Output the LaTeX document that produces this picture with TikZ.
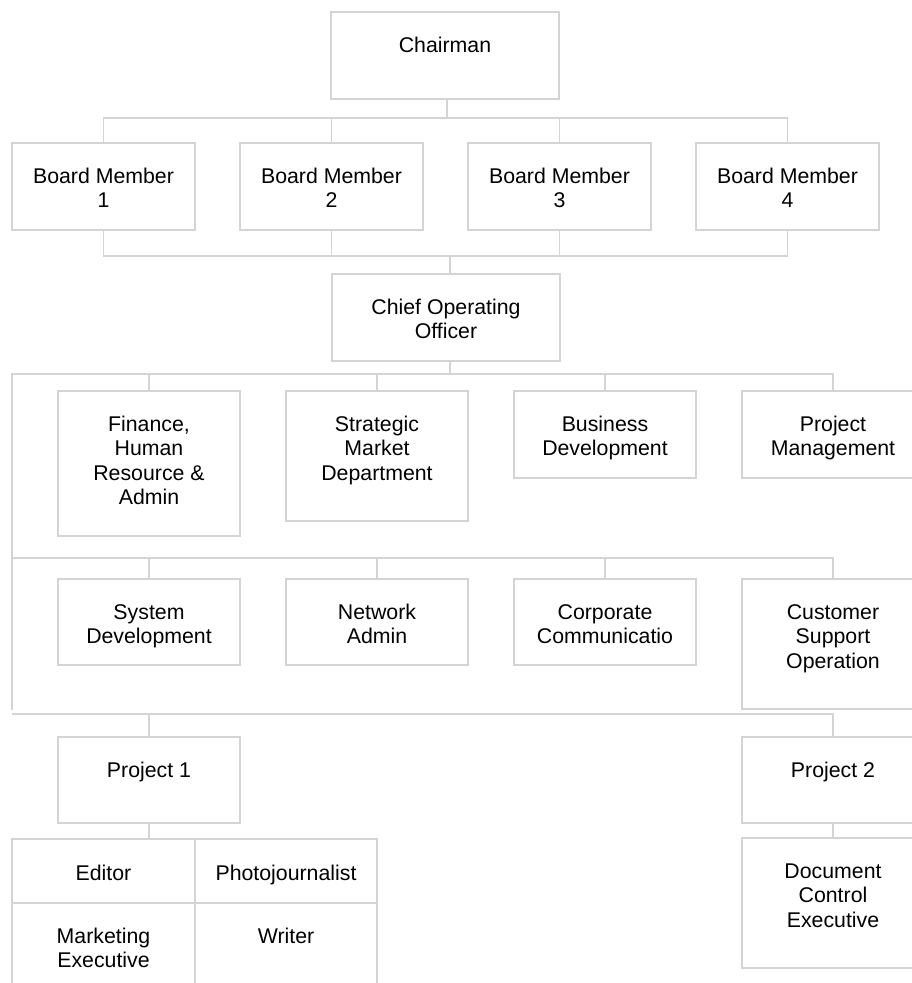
\documentclass[tikz,border=0pt]{standalone}
\usepackage{fontspec}
\setmainfont{Liberation Sans}
\definecolor{linegray}{RGB}{212,212,212}
\newcommand\chartfont{\fontsize{21.3}{24.3}\selectfont}
\tikzset{
  box/.style={draw=linegray, line width=1.2pt, rectangle, inner sep=0pt, outer sep=0pt},
  lbl/.style={font=\chartfont, align=center, anchor=base, inner sep=0pt, text=black},
  wire/.style={draw=linegray, line width=1.2pt},
}
\begin{document}
\begin{tikzpicture}[x=1pt, y=-1pt]
\useasboundingbox (0,0) rectangle (912,983);

% bus levels
\coordinate (busA) at (0,118);
\coordinate (busB) at (0,256);
\coordinate (busC) at (0,374);
\coordinate (busD) at (0,558);
\coordinate (busE) at (0,714);
\coordinate (leftC) at (12,374);
\coordinate (leftEnd) at (12,710);
\coordinate (leftD) at (12,558);
\coordinate (leftE) at (12,714);

% boxes
\node[box, minimum width=228, minimum height=87] (chair) at (445,55.5) {};
\node[box, minimum width=183, minimum height=87] (bm1) at (103.5,186.5) {};
\node[box, minimum width=183, minimum height=87] (bm2) at (331.5,186.5) {};
\node[box, minimum width=183, minimum height=87] (bm3) at (559.5,186.5) {};
\node[box, minimum width=183, minimum height=87] (bm4) at (787.5,186.5) {};
\node[box, minimum width=228, minimum height=87] (coo) at (446,317.5) {};

\node[box, minimum width=182, minimum height=145] (fin) at (149,463.5) {};
\node[box, minimum width=182, minimum height=130] (strat) at (377,456) {};
\node[box, minimum width=182, minimum height=87] (bus) at (605,434.5) {};
\node[box, minimum width=182, minimum height=87] (pm) at (833,434.5) {};

\node[box, minimum width=182, minimum height=86] (sys) at (149,622) {};
\node[box, minimum width=182, minimum height=86] (net) at (377,622) {};
\node[box, minimum width=182, minimum height=86] (corp) at (605,622) {};
\node[box, minimum width=182, minimum height=130] (cust) at (833,644) {};

\node[box, minimum width=182, minimum height=86] (p1) at (149,780) {};
\node[box, minimum width=182, minimum height=86] (p2) at (833,780) {};

\node[box, minimum width=183, minimum height=64] (ed) at (103.5,871) {};
\node[box, minimum width=182, minimum height=64] (ph) at (286,871) {};
\node[box, minimum width=183, minimum height=100] (mk) at (103.5,953) {};
\node[box, minimum width=182, minimum height=100] (wr) at (286,953) {};

\node[box, minimum width=182, minimum height=130] (doc) at (833,903) {};

% labels: anchored at the baseline of their last line
% (first baseline 40.5 below the box top, lines 24.3 apart)
\node[lbl] (chair-t) at ([yshift=-40.5pt]chair.north) {Chairman};
\node[lbl] (bm1-t) at ([yshift=-64.8pt]bm1.north) {Board Member\\1};
\node[lbl] (bm2-t) at ([yshift=-64.8pt]bm2.north) {Board Member\\2};
\node[lbl] (bm3-t) at ([yshift=-64.8pt]bm3.north) {Board Member\\3};
\node[lbl] (bm4-t) at ([yshift=-64.8pt]bm4.north) {Board Member\\4};
\node[lbl] (coo-t) at ([yshift=-64.8pt]coo.north) {Chief Operating\\Officer};
\node[lbl] (fin-t) at ([yshift=-113.4pt]fin.north) {Finance,\\Human\\Resource \&\\Admin};
\node[lbl] (strat-t) at ([yshift=-89.1pt]strat.north) {Strategic\\Market\\Department};
\node[lbl] (bus-t) at ([yshift=-64.8pt]bus.north) {Business\\Development};
\node[lbl] (pm-t) at ([yshift=-64.8pt]pm.north) {Project\\Management};
\node[lbl] (sys-t) at ([yshift=-64.8pt]sys.north) {System\\Development};
\node[lbl] (net-t) at ([yshift=-64.8pt]net.north) {Network\\Admin};
\node[lbl] (corp-t) at ([yshift=-64.8pt]corp.north) {Corporate\\Communicatio};
\node[lbl] (cust-t) at ([yshift=-89.1pt]cust.north) {Customer\\Support\\Operation};
\node[lbl] (p1-t) at ([yshift=-40.5pt]p1.north) {Project 1};
\node[lbl] (p2-t) at ([yshift=-40.5pt]p2.north) {Project 2};
\node[lbl] (ed-t) at ([yshift=-41.5pt]ed.north) {Editor};
\node[lbl] (ph-t) at ([yshift=-41.5pt]ph.north) {Photojournalist};
\node[lbl] (mk-t) at ([yshift=-64.8pt]mk.north) {Marketing\\Executive};
\node[lbl] (wr-t) at ([yshift=-40.5pt]wr.north) {Writer};
\node[lbl] (doc-t) at ([yshift=-89.1pt]doc.north) {Document\\Control\\Executive};

% chairman to board
\draw[wire] ([xshift=2pt]chair.south) -- ([xshift=2pt]chair.south |- busA);
\draw[wire] (bm1.north) -- (bm1.north |- busA) -- (bm4.north |- busA) -- (bm4.north);
\draw[wire] (bm2.north) -- (bm2.north |- busA);
\draw[wire] (bm3.north) -- (bm3.north |- busA);

% board to COO
\draw[wire] (bm1.south) -- (bm1.south |- busB) -- (bm4.south |- busB) -- (bm4.south);
\draw[wire] (bm2.south) -- (bm2.south |- busB);
\draw[wire] (bm3.south) -- (bm3.south |- busB);
\draw[wire] ([xshift=4pt]coo.north) -- ([xshift=4pt]coo.north |- busB);

% COO to departments
\draw[wire] ([xshift=4pt]coo.south) -- ([xshift=4pt]coo.south |- busC);
\draw[wire] (leftEnd) -- (leftC) -- (pm.north |- busC) -- (pm.north);
\draw[wire] (fin.north) -- (fin.north |- busC);
\draw[wire] (strat.north) -- (strat.north |- busC);
\draw[wire] (bus.north) -- (bus.north |- busC);

\draw[wire] (leftD) -- (cust.north |- busD) -- (cust.north);
\draw[wire] (sys.north) -- (sys.north |- busD);
\draw[wire] (net.north) -- (net.north |- busD);
\draw[wire] (corp.north) -- (corp.north |- busD);

% projects
\draw[wire] (leftE) -- (p2.north |- busE) -- (p2.north);
\draw[wire] (p1.north) -- (p1.north |- busE);
\draw[wire] (p1.south) -- (p1.south |- ed.north);
\draw[wire] (p2.south) -- (doc.north);
\end{tikzpicture}
\end{document}
